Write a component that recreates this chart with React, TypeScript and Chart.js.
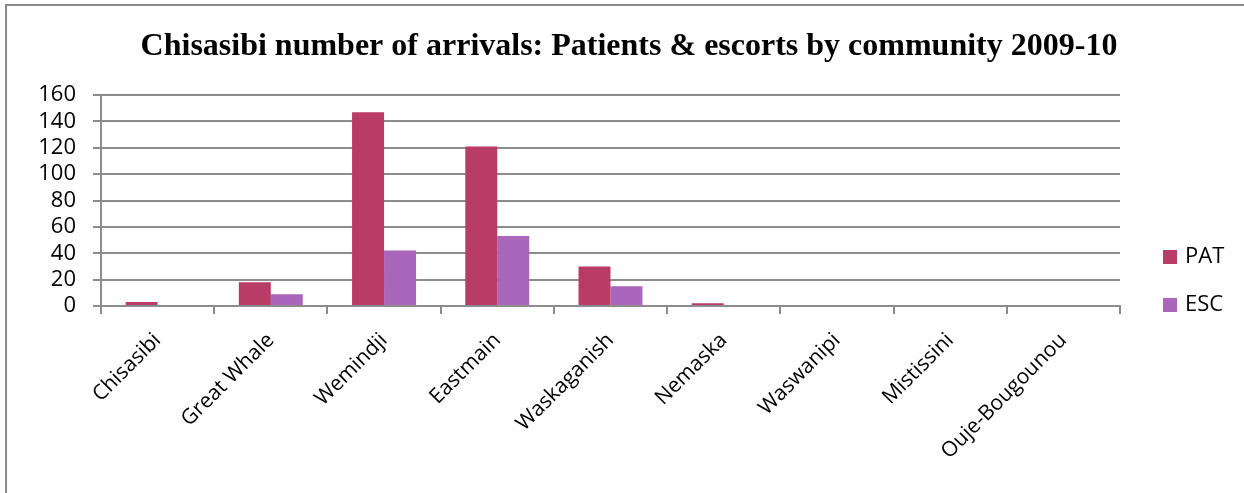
import React, { useEffect, useRef } from "react";
import { Chart, registerables } from "chart.js";

Chart.register(...registerables);

const TITLE = "Chisasibi number of arrivals: Patients & escorts by community 2009-10";
const categories = [
  "Chisasibi",
  "Great Whale",
  "Wemindji",
  "Eastmain",
  "Waskaganish",
  "Nemaska",
  "Waswanipi",
  "Mistissini",
  "Ouje-Bougounou",
];
const patValues = [3, 18, 147, 121, 30, 2, 0, 0, 0];
const escValues = [0, 9, 42, 53, 15, 0, 0, 0, 0];
const yTicks = [0, 20, 40, 60, 80, 100, 120, 140, 160];

const PAT_COLOR = "#B93C67";
const ESC_COLOR = "#A966BA";
const GRID = "#8c8c8c";

const titlePlugin = {
  id: "customTitle",
  afterDraw(chart: any) {
    const ctx = chart.ctx;
    ctx.save();
    ctx.font = "bold 32px 'Liberation Serif', 'Times New Roman', serif";
    ctx.fillStyle = "#000";
    ctx.textAlign = "center";
    ctx.textBaseline = "alphabetic";
    ctx.fillText(TITLE, 629, 54.5);
    ctx.restore();
  },
};

const legendPlugin = {
  id: "customLegend",
  afterDraw(chart: any) {
    const ctx = chart.ctx;
    const area = chart.chartArea;
    const items = [
      { label: chart.data.datasets[0].label, color: PAT_COLOR, cy: area.bottom - 49 },
      { label: chart.data.datasets[1].label, color: ESC_COLOR, cy: area.bottom - 1 },
    ];
    ctx.save();
    ctx.font = "22px 'Open Sans', sans-serif";
    ctx.textBaseline = "middle";
    ctx.textAlign = "left";
    for (const it of items) {
      ctx.fillStyle = it.color;
      ctx.fillRect(area.right + 43, it.cy - 7, 14, 14);
      ctx.fillStyle = "#000";
      ctx.fillText(it.label, area.right + 65, it.cy);
    }
    ctx.restore();
  },
};

export default function App() {
  const ref = useRef<HTMLCanvasElement | null>(null);

  useEffect(() => {
    if (!ref.current) return;
    const chart = new Chart(ref.current, {
      type: "bar",
      data: {
        labels: categories,
        datasets: [
          {
            label: "PAT",
            data: patValues,
            backgroundColor: PAT_COLOR,
            categoryPercentage: 0.565,
            barPercentage: 1,
          },
          {
            label: "ESC",
            data: escValues,
            backgroundColor: ESC_COLOR,
            categoryPercentage: 0.565,
            barPercentage: 1,
          },
        ],
      },
      options: {
        responsive: false,
        animation: false,
        devicePixelRatio: 1,
        layout: { padding: { top: 95, left: 0, right: 124, bottom: 0 } },
        plugins: {
          legend: { display: false },
          title: { display: false },
          tooltip: { enabled: false },
        },
        scales: {
          x: {
            afterFit(scale: any) {
              scale.height = 187;
            },
            grid: {
              offset: true,
              drawOnChartArea: false,
              drawTicks: true,
              tickLength: 8,
              color: GRID,
              lineWidth: 2,
            },
            border: { display: true, color: GRID, width: 2 },
            ticks: {
              autoSkip: false,
              minRotation: 45,
              maxRotation: 45,
              padding: 14,
              color: "#000",
              font: { family: "'Open Sans', sans-serif", size: 21 },
            },
          },
          y: {
            min: 0,
            max: 160,
            afterFit(scale: any) {
              scale.width = 101;
            },
            afterBuildTicks(scale: any) {
              scale.ticks = yTicks.map((v) => ({ value: v }));
            },
            grid: {
              color: GRID,
              lineWidth: 2,
              tickLength: 8,
            },
            border: { display: true, color: GRID, width: 2 },
            ticks: {
              autoSkip: false,
              padding: 17,
              color: "#000",
              font: { family: "'Open Sans', sans-serif", size: 22 },
            },
          },
        },
      },
      plugins: [titlePlugin, legendPlugin],
    });
    return () => chart.destroy();
  }, []);

  return (
    <div
      style={{
        position: "absolute",
        left: 0,
        top: 0,
        width: 1244,
        height: 493,
        overflow: "hidden",
        background: "#fff",
      }}
    >
      <div
        style={{
          position: "absolute",
          left: 5,
          top: 4,
          width: 1400,
          height: 700,
          borderLeft: "2px solid #8a8a8a",
          borderTop: "2px solid #8a8a8a",
        }}
      />
      <canvas
        ref={ref}
        width={1244}
        height={493}
        style={{ position: "absolute", left: 0, top: 0, width: 1244, height: 493 }}
      />
    </div>
  );
}
